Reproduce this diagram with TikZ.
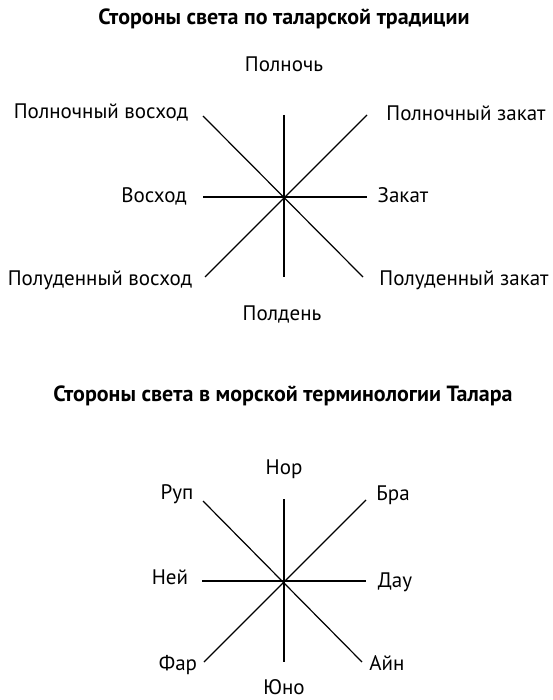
\documentclass[tikz,border=0pt]{standalone}
\usepackage{fontspec}
\setmainfont{PT Sans}
\begin{document}
\begin{tikzpicture}[x=1pt,y=-1pt,
  lbl/.style={inner sep=0pt, anchor=base, font=\fontsize{21}{24}\selectfont},
  ttl/.style={inner sep=0pt, anchor=base, font=\bfseries\fontsize{22}{26}\selectfont},
  ray/.style={line width=1.2pt, black}]
\useasboundingbox (0,0) rectangle (553,700);
% ---------- top diagram ----------
\node[ttl] (t1) at (284,25) {Стороны света по таларской традиции};
\coordinate (c1) at (284,197);
\coordinate (n1) at (284,115);
\coordinate (s1) at (284,277);
\coordinate (w1) at (203,197);
\coordinate (e1) at (367,197);
\coordinate (nw1) at (203,116);
\coordinate (se1) at (363,277);
\coordinate (ne1) at (367,115);
\coordinate (sw1) at (205,277);
\draw[ray] (n1) -- (s1);
\draw[ray] (w1) -- (e1);
\draw[ray] (nw1) -- (se1);
\draw[ray] (ne1) -- (sw1);
\node[lbl] (ln1) at (284,72) {Полночь};
\node[lbl] (lnw1) at (101,119) {Полночный восход};
\node[lbl] (lne1) at (466,121) {Полночный закат};
\node[lbl] (lw1) at (154,203) {Восход};
\node[lbl] (le1) at (403,203) {Закат};
\node[lbl] (lsw1) at (100,285) {Полуденный восход};
\node[lbl] (lse1) at (464,285) {Полуденный закат};
\node[lbl] (ls1) at (282,320) {Полдень};
% ---------- bottom diagram ----------
\node[ttl] (t2) at (283,401) {Стороны света в морской терминологии Талара};
\coordinate (c2) at (284,581);
\coordinate (n2) at (284,499);
\coordinate (s2) at (284,662);
\coordinate (w2) at (202,581);
\coordinate (e2) at (366,581);
\coordinate (nw2) at (203,501);
\coordinate (se2) at (362,662);
\coordinate (ne2) at (366,500);
\coordinate (sw2) at (204,662);
\draw[ray] (n2) -- (s2);
\draw[ray] (w2) -- (e2);
\draw[ray] (nw2) -- (se2);
\draw[ray] (ne2) -- (sw2);
\node[lbl] (ln2) at (284,474) {Нор};
\node[lbl] (lnw2) at (177,499) {Руп};
\node[lbl] (lne2) at (393,500) {Бра};
\node[lbl] (lw2) at (170,584) {Ней};
\node[lbl] (le2) at (395,587) {Дау};
\node[lbl] (lsw2) at (178,670) {Фар};
\node[lbl] (lse2) at (387,670) {Айн};
\node[lbl] (ls2) at (284,694) {Юно};
\end{tikzpicture}
\end{document}
